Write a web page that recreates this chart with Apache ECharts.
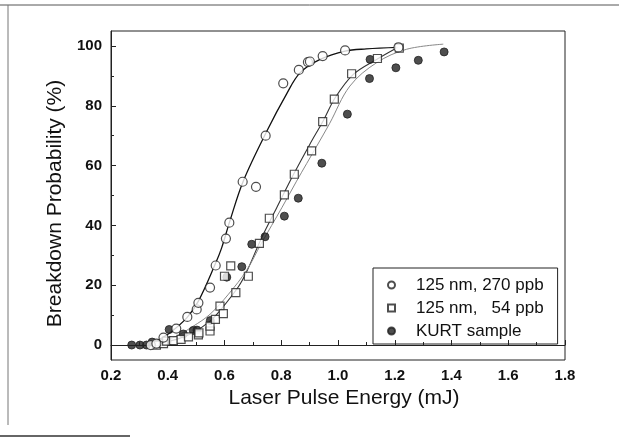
<!DOCTYPE html>
<html>
<head>
<meta charset="utf-8">
<script src="https://cdn.jsdelivr.net/npm/echarts@6/dist/echarts.min.js"></script>
<style>
  html, body { margin: 0; padding: 0; background: #fff; }
  #main { width: 619px; height: 441px; }
</style>
</head>
<body>
<div id="main"></div>
<script>
var circleX = [0.34, 0.36, 0.385, 0.43, 0.469, 0.502, 0.508, 0.549, 0.569, 0.605, 0.617, 0.664, 0.711, 0.745, 0.807, 0.862, 0.894, 0.901, 0.946, 1.025, 1.213];
var circleY = [0, 0.5, 2.5, 5.5, 9.4, 11.9, 14.1, 19.2, 26.6, 35.6, 40.9, 54.6, 52.9, 70, 87.5, 92, 94.6, 94.8, 96.6, 98.5, 99.5];

var squareX = [0.36, 0.385, 0.396, 0.42, 0.447, 0.473, 0.508, 0.51, 0.549, 0.549, 0.568, 0.584, 0.596, 0.6, 0.622, 0.64, 0.684, 0.723, 0.758, 0.811, 0.846, 0.907, 0.946, 0.987, 1.048, 1.139, 1.216];
var squareY = [0, 0.5, 1.3, 1.5, 1.9, 2.7, 3.4, 4.1, 4.7, 6.3, 8.6, 13, 10.5, 23, 26.5, 17.5, 23, 34, 42.4, 50.2, 57.1, 64.9, 74.7, 82.2, 90.7, 95.8, 99.3];

var kurtX = [0.273, 0.302, 0.325, 0.345, 0.405, 0.455, 0.49, 0.503, 0.55, 0.608, 0.661, 0.696, 0.743, 0.811, 0.86, 0.943, 1.033, 1.111, 1.113, 1.204, 1.283, 1.374];
var kurtY = [0, 0, 0, 1, 5.2, 3.7, 4.9, 5, 8.2, 22.7, 26.2, 33.7, 36.2, 43.1, 49.1, 60.8, 77.2, 89.1, 95.5, 92.7, 95.2, 98];

// fitted curves
var fit270X = [0.35, 0.373, 0.408, 0.467, 0.508, 0.567, 0.59, 0.619, 0.666, 0.749, 0.819, 0.866, 0.937, 1.025, 1.1, 1.21];
var fit270Y = [0.8, 2.0, 4.1, 9.1, 14.7, 27, 32.5, 41.5, 54.8, 71.5, 84, 91, 95.5, 98.3, 99, 99.5];

var fit54X = [0.373, 0.431, 0.489, 0.549, 0.584, 0.649, 0.678, 0.731, 0.784, 0.843, 0.9, 0.948, 0.99, 1.054, 1.136, 1.21];
var fit54Y = [0.8, 1.9, 4.1, 8, 11.5, 19.5, 24.5, 35.9, 45.9, 57, 67, 75, 82.7, 90.5, 95.5, 99.5];

var fitKurtX = [0.373, 0.431, 0.49, 0.549, 0.614, 0.678, 0.73, 0.802, 0.854, 0.925, 0.97, 1.042, 1.136, 1.242, 1.371];
var fitKurtY = [0.8, 3.0, 6.3, 10.3, 17, 25, 34, 45.9, 54.8, 66.5, 74, 86.6, 94.4, 98.9, 100.6];

var yMajor = [0, 20, 40, 60, 80, 100];
var yMinor = [10, 30, 50, 70, 90];

function pairs(xs, ys) {
  return xs.map(function (x, i) { return [x, ys[i]]; });
}

var chartDom = document.getElementById('main');
var myChart = echarts.init(chartDom);
var option;

var font = "'Liberation Sans', Arial, sans-serif";

option = {
  backgroundColor: '#fff',
  animation: false,
  textStyle: { fontFamily: font },
  grid: {
    left: 111, right: 54, top: 31, bottom: 81,
    show: true, borderColor: '#222', borderWidth: 1
  },
  legend: {
    orient: 'vertical',
    left: 373, top: 268,
    padding: [8, 14, 4, 14],
    itemGap: 5,
    itemWidth: 7, itemHeight: 7,
    borderColor: '#222', borderWidth: 1, borderRadius: 0,
    textStyle: { fontSize: 17, color: '#111', lineHeight: 18, padding: [0, 0, 0, 16], fontFamily: font },
    data: ['125 nm, 270 ppb', '125 nm,   54 ppb', 'KURT sample']
  },
  xAxis: {
    type: 'value',
    min: 0.2, max: 1.8, interval: 0.2,
    name: 'Laser Pulse Energy (mJ)',
    nameLocation: 'middle',
    nameGap: 27,
    nameTextStyle: { fontSize: 21, color: '#111', padding: [0, 0, 0, 12] },
    axisLine: { lineStyle: { color: '#222', width: 1 } },
    axisTick: { inside: true, length: 5, lineStyle: { color: '#222' } },
    minorTick: { show: true, splitNumber: 2, length: 3, lineStyle: { color: '#222' } },
    axisLabel: {
      margin: 8, fontSize: 15, fontWeight: 'bold', color: '#111',
      formatter: function (v) { return v.toFixed(1); }
    },
    splitLine: { show: false }
  },
  yAxis: [{
    type: 'value',
    min: -5, max: 105,
    name: 'Breakdown Probability (%)',
    nameLocation: 'middle',
    nameGap: 42,
    nameTextStyle: { fontSize: 21, color: '#111', padding: [0, 16, 0, 0] },
    axisLine: { show: true, lineStyle: { color: '#222', width: 1 } },
    axisTick: { inside: true, length: 5, customValues: yMajor, lineStyle: { color: '#222' } },
    axisLabel: { margin: 9, fontSize: 15, fontWeight: 'bold', color: '#111', customValues: yMajor },
    splitLine: { show: false }
  }, {
    type: 'value',
    position: 'left',
    min: -5, max: 105,
    axisLine: { show: false },
    axisTick: { inside: true, length: 3, customValues: yMinor, lineStyle: { color: '#222' } },
    axisLabel: { show: false },
    splitLine: { show: false }
  }],
  graphic: [
    { type: 'line', shape: { x1: 0, y1: 5, x2: 619, y2: 5 }, style: { stroke: '#555', lineWidth: 1 } },
    { type: 'line', shape: { x1: 8, y1: 5, x2: 8, y2: 425 }, style: { stroke: '#777', lineWidth: 1 } },
    { type: 'line', shape: { x1: 0, y1: 436, x2: 130, y2: 436 }, style: { stroke: '#333', lineWidth: 1.5 } }
  ],
  series: [
    {
      name: 'fit270', type: 'line', data: pairs(fit270X, fit270Y),
      smooth: 0.35, symbol: 'none',
      lineStyle: { color: '#111', width: 1.3 }, z: 2
    },
    {
      name: 'fit54', type: 'line', data: pairs(fit54X, fit54Y),
      smooth: 0.35, symbol: 'none',
      lineStyle: { color: '#333', width: 1.1 }, z: 2
    },
    {
      name: 'fitKurt', type: 'line', data: pairs(fitKurtX, fitKurtY),
      smooth: 0.35, symbol: 'none',
      lineStyle: { color: '#888', width: 1 }, z: 2
    },
    {
      name: 'KURT sample', type: 'scatter', data: pairs(kurtX, kurtY),
      symbol: 'circle', symbolSize: 8,
      itemStyle: { color: '#222', borderColor: '#222', borderWidth: 1 }, z: 3
    },
    {
      name: '125 nm,   54 ppb', type: 'scatter', data: pairs(squareX, squareY),
      symbol: 'rect', symbolSize: 8,
      itemStyle: { color: '#fff', borderColor: '#222', borderWidth: 1.2 }, z: 4
    },
    {
      name: '125 nm, 270 ppb', type: 'scatter', data: pairs(circleX, circleY),
      symbol: 'circle', symbolSize: 9,
      itemStyle: { color: '#fff', borderColor: '#222', borderWidth: 1.2 }, z: 5
    }
  ]
};

option && myChart.setOption(option);
</script>
</body>
</html>
